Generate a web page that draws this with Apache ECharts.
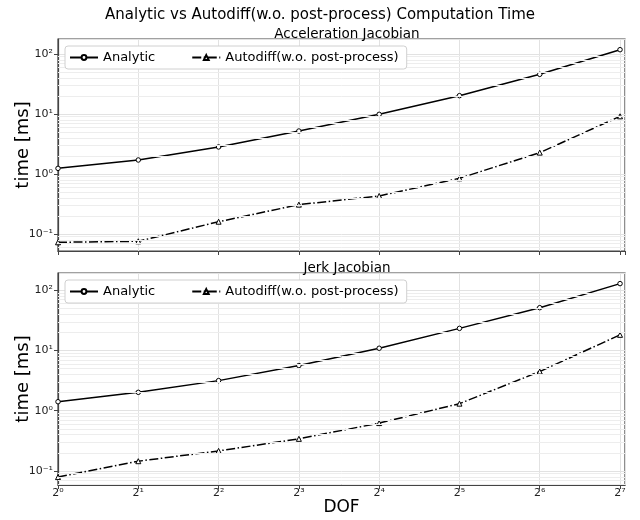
<!DOCTYPE html>
<html>
<head>
<meta charset="utf-8">
<script src="https://cdn.jsdelivr.net/npm/echarts@6/dist/echarts.min.js"></script>
<style>
  html, body { margin: 0; padding: 0; background: #fff; }
  #chart { width: 640px; height: 520px; }
</style>
</head>
<body>
<div id="chart"></div>
<script>
// Degrees of freedom (x axis, log base 2)
const dof = [1, 2, 4, 8, 16, 32, 64, 128];

// Acceleration Jacobian timings [ms]
const accAnalytic = [1.24, 1.71, 2.82, 5.2, 9.87, 20.2, 45.8, 118];
const accAutodiff = [0.0726, 0.0755, 0.16, 0.308, 0.43, 0.847, 2.27, 9.14];

// Jerk Jacobian timings [ms]
const jerkAnalytic = [1.41, 2.02, 3.16, 5.62, 10.9, 23.3, 51.4, 129];
const jerkAutodiff = [0.079, 0.145, 0.215, 0.341, 0.623, 1.31, 4.47, 18.2];

const seriesNames = ['Analytic', 'Autodiff(w.o. post-process)'];
const panelTitles = ['Acceleration Jacobian', 'Jerk Jacobian'];

// axis limits
const xMax = 133.6;
const yLimits = [[0.052, 177.8], [0.0584, 193.6]];

const FONT = 'DejaVu Sans';
const SUP = { '-': '\u207B', '0': '\u2070', '1': '\u00B9', '2': '\u00B2', '3': '\u00B3',
              '4': '\u2074', '5': '\u2075', '6': '\u2076', '7': '\u2077', '8': '\u2078', '9': '\u2079' };

function powerLabel(base, v) {
  const e = Math.round(Math.log(v) / Math.log(base));
  if (Math.abs(Math.pow(base, e) - v) > 1e-6 * v) return '';
  return String(base) + String(e).split('').map(c => SUP[c]).join('');
}

// light minor grid lines at 2..9 x 10^k
function minorValues(lo, hi) {
  const out = [];
  for (let k = -3; k <= 3; k++) {
    for (let m = 2; m <= 9; m++) {
      const v = m * Math.pow(10, k);
      if (v > lo && v < hi) out.push(v);
    }
  }
  return out;
}

const grids = [
  { left: 58, right: 15, top: 39, height: 212 },
  { left: 58, right: 15, top: 273, height: 212 }
];

const option = {
  animation: false,
  backgroundColor: '#fff',
  textStyle: { fontFamily: FONT },
  title: [
    { text: 'Analytic vs Autodiff(w.o. post-process) Computation Time', left: 'center', top: 3,
      textStyle: { fontFamily: FONT, fontSize: 15, fontWeight: 'normal', color: '#000' } },
    { text: panelTitles[0], left: 342, textAlign: 'center', top: 22,
      textStyle: { fontFamily: FONT, fontSize: 13.5, fontWeight: 'normal', color: '#000' } },
    { text: panelTitles[1], left: 342, textAlign: 'center', top: 256,
      textStyle: { fontFamily: FONT, fontSize: 13.5, fontWeight: 'normal', color: '#000' } }
  ],
  legend: [0, 1].map(i => ({
    data: seriesNames,
    left: 65,
    top: grids[i].top + 7,
    z: 10,
    orient: 'horizontal',
    itemWidth: 28,
    itemHeight: 6,
    itemGap: 36,
    padding: [5, 8, 5, 4],
    backgroundColor: '#fff',
    borderColor: '#d0d0d0',
    borderWidth: 1,
    borderRadius: 3,
    textStyle: { fontFamily: FONT, fontSize: 13, color: '#000' },
    selectedMode: false
  })),
  grid: grids.map(g => Object.assign({
    show: true, backgroundColor: '#fff', borderColor: '#444', borderWidth: 1.2,
    containLabel: false, outerBoundsMode: 'none'
  }, g)),
  xAxis: [0, 1].map(i => ({
    type: 'log',
    logBase: 2,
    gridIndex: i,
    min: 1,
    max: xMax,
    splitNumber: 7,
    name: i === 1 ? 'DOF' : '',
    nameLocation: 'middle',
    nameGap: 14,
    nameMoveOverlap: false,
    nameTextStyle: { fontFamily: FONT, fontSize: 17, color: '#000', verticalAlign: 'top' },
    axisLine: { show: true, lineStyle: { color: '#444', width: 1.2 } },
    axisTick: { show: true, length: 4, lineStyle: { color: '#444' } },
    axisLabel: {
      show: i === 1,
      margin: 3,
      showMaxLabel: false,
      fontFamily: FONT,
      fontSize: 11,
      color: '#222',
      formatter: v => powerLabel(2, v)
    },
    splitLine: { show: true, lineStyle: { color: '#e2e2e2', width: 1 } }
  })),
  yAxis: [0, 1].map(i => ({
    type: 'log',
    logBase: 10,
    gridIndex: i,
    min: yLimits[i][0],
    max: yLimits[i][1],
    name: 'time [ms]',
    nameLocation: 'middle',
    nameGap: 26,
    nameMoveOverlap: false,
    nameTextStyle: { fontFamily: FONT, fontSize: 18, color: '#000' },
    axisLine: { show: true, lineStyle: { color: '#444', width: 1.2 } },
    axisTick: { show: true, length: 4, lineStyle: { color: '#444' } },
    axisLabel: {
      margin: 5,
      showMinLabel: false,
      showMaxLabel: false,
      fontFamily: FONT,
      fontSize: 11,
      color: '#222',
      formatter: v => powerLabel(10, v)
    },
    splitLine: { show: true, lineStyle: { color: '#e2e2e2', width: 1 } }
  })),
  series: []
};

const panels = [[accAnalytic, accAutodiff], [jerkAnalytic, jerkAutodiff]];

panels.forEach((pair, i) => {
  // minor horizontal grid
  option.series.push({
    type: 'line',
    xAxisIndex: i,
    yAxisIndex: i,
    data: [],
    silent: true,
    z: 1,
    markLine: {
      silent: true,
      symbol: 'none',
      label: { show: false },
      lineStyle: { color: '#ededed', width: 1, type: 'solid' },
      data: minorValues(yLimits[i][0], yLimits[i][1]).map(v => ({ yAxis: v }))
    }
  });
  option.series.push({
    name: seriesNames[0],
    type: 'line',
    xAxisIndex: i,
    yAxisIndex: i,
    z: 3,
    data: dof.map((d, j) => [d, pair[0][j]]),
    symbol: 'circle',
    symbolSize: 4.5,
    showAllSymbol: true,
    lineStyle: { color: '#000', width: 1.5, type: 'solid' },
    itemStyle: { color: '#fff', borderColor: '#000', borderWidth: 1 }
  });
  option.series.push({
    name: seriesNames[1],
    type: 'line',
    xAxisIndex: i,
    yAxisIndex: i,
    z: 3,
    data: dof.map((d, j) => [d, pair[1][j]]),
    symbol: 'triangle',
    symbolSize: 5,
    showAllSymbol: true,
    lineStyle: { color: '#000', width: 1.5, type: [9, 2.5, 1.5, 2.5] },
    itemStyle: { color: '#fff', borderColor: '#000', borderWidth: 1 }
  });
});

const chart = echarts.init(document.getElementById('chart'), null, { renderer: 'canvas' });
chart.setOption(option);
</script>
</body>
</html>
